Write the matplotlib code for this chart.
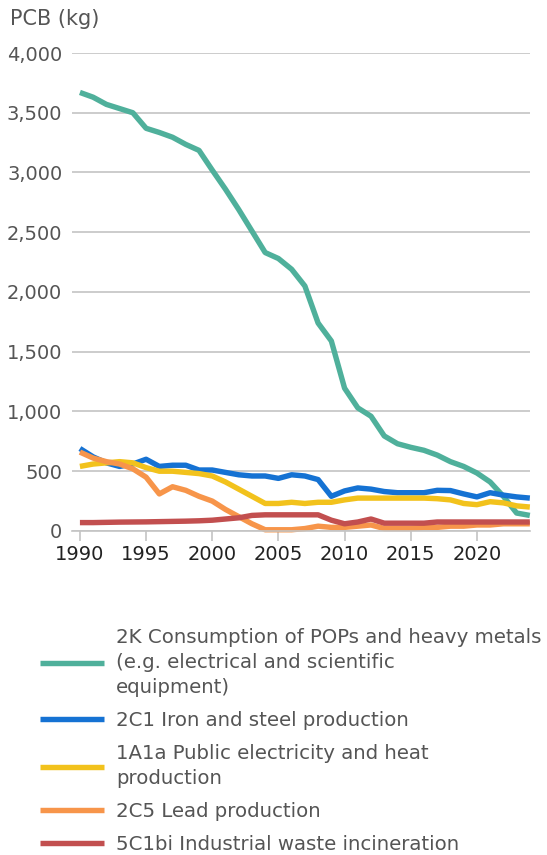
import matplotlib.pyplot as plt

years = list(range(1990, 2025))

consumption_pops = [3670, 3630, 3570, 3535, 3500, 3370, 3335, 3295, 3235, 3185,
                    3020, 2860, 2690, 2510, 2330, 2280, 2190, 2050, 1740, 1590,
                    1195, 1030, 960, 795, 730, 700, 675, 635, 580, 540,
                    485, 410, 290, 150, 130]
iron_steel = [690, 620, 570, 540, 560, 600, 540, 550, 550, 510,
              510, 490, 470, 460, 460, 440, 470, 460, 430, 290,
              335, 360, 350, 330, 320, 320, 320, 340, 338, 310,
              285, 320, 300, 285, 275]
public_electricity = [540, 560, 570, 580, 570, 530, 500, 500, 490, 480,
                      460, 410, 350, 290, 230, 230, 240, 230, 240, 240,
                      260, 275, 275, 275, 275, 275, 275, 270, 260, 230,
                      220, 245, 235, 210, 200]
lead = [660, 610, 580, 560, 520, 450, 310, 370, 340, 290,
        250, 180, 120, 60, 10, 10, 10, 20, 40, 30,
        30, 40, 50, 20, 20, 20, 30, 30, 40, 40,
        50, 50, 60, 60, 60]
waste_incineration = [70, 70, 72, 74, 75, 76, 78, 80, 82, 85,
                      90, 100, 110, 130, 135, 135, 135, 135, 135, 90,
                      60, 75, 100, 65, 65, 65, 65, 75, 75, 75,
                      75, 75, 75, 75, 75]

labels = [
    "2K Consumption of POPs and heavy metals\n(e.g. electrical and scientific\nequipment)",
    "2C1 Iron and steel production",
    "1A1a Public electricity and heat\nproduction",
    "2C5 Lead production",
    "5C1bi Industrial waste incineration",
]
colors = ["#4fb09b", "#1572d3", "#f2c21c", "#f7954a", "#c24f4f"]
series = [consumption_pops, iron_steel, public_electricity, lead, waste_incineration]

fig = plt.figure(figsize=(5.47, 8.55), dpi=100)
ax = fig.add_axes([0.1316, 0.379, 0.837, 0.559])

# teal first so the smaller sources are drawn over it
handles = []
for vals, col, lab in zip(series, colors, labels):
    h, = ax.plot(years, vals, color=col, lw=3.9, label=lab, solid_capstyle="butt", clip_on=False)
    handles.append(h)

ax.set_xlim(1989.4, 2024)
ax.set_ylim(0, 4000)
ax.set_yticks(range(0, 4001, 500))
ax.set_yticklabels([f"{v:,}" for v in range(0, 4001, 500)])
ax.set_xticks(range(1990, 2021, 5))
ax.grid(axis="y", color="#c4c4c4", lw=1.2)
ax.set_axisbelow(True)
for s in ["top", "right", "left"]:
    ax.spines[s].set_visible(False)
ax.spines["bottom"].set_color("#c4c4c4")
ax.spines["bottom"].set_linewidth(1.2)
ax.tick_params(axis="y", length=0, pad=7, labelsize=14, labelcolor="#555555")
ax.tick_params(axis="x", length=7, width=1.2, color="#c4c4c4", pad=3,
               labelsize=14, labelcolor="#222222")

fig.text(0.018, 0.978, "PCB (kg)", fontsize=15, color="#555555", va="center")

leg = fig.legend(handles=handles, loc="upper left", bbox_to_anchor=(0.073, 0.266),
                 frameon=False, fontsize=14.2, labelcolor="#555555", handlelength=3.27,
                 handletextpad=0.6, labelspacing=0.72, borderpad=0, borderaxespad=0)
for t in leg.get_texts():
    t.set_linespacing(1.4)

fig.savefig("out.png", dpi=100)
